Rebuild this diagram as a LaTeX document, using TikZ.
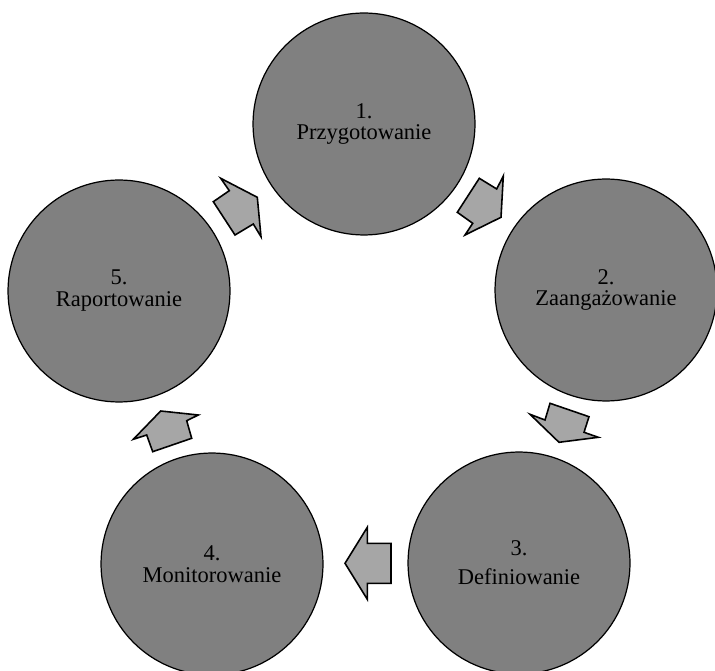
\documentclass[tikz,border=0pt]{standalone}
\usepackage{fontspec}
\setmainfont{Liberation Serif}
\definecolor{circgray}{HTML}{808080}
\definecolor{arrgray}{HTML}{A6A6A6}
\begin{document}
\begin{tikzpicture}[x=0.02cm,y=-0.02cm,
  stage/.style={circle,draw=black,line width=0.7pt,fill=circgray,minimum size=4.44cm,inner sep=0pt,
    align=center,font=\fontsize{12.8}{12.5}\selectfont,text=black},
  blockarrow/.style={draw=black,line width=0.9pt,fill=arrgray,line join=miter}]
\useasboundingbox (0,0) rectangle (715,671);
\node[stage] (s1) at (364,124) {1.\\Przygotowanie};
\node[stage] (s2) at (606,290) {2.\\Zaangażowanie};
\node[stage,font=\fontsize{12.8}{16.5}\selectfont] (s3) at (519,563) {3.\\Definiowanie};
\node[stage] (s4) at (212,564) {4.\\Monitorowanie};
\node[stage] (s5) at (119,291) {5.\\Raportowanie};
% arrow 5 -> 1
\draw[blockarrow] (220.7,178.3) -- (257.3,197.3) -- (261,236.7) -- (253.3,224) -- (235,235) -- (213.3,201.7) -- (229.3,190.7) -- cycle;
% arrow 1 -> 2
\draw[blockarrow] (503.3,176) -- (501,217.3) -- (465,235) -- (472.7,223.3) -- (457.3,212.3) -- (479.3,178.3) -- (496.7,189) -- cycle;
% arrow 2 -> 3
\draw[blockarrow] (530,414.3) -- (545,420) -- (550,403.3) -- (589,416.7) -- (584,432.3) -- (598.3,437.3) -- (559,442.3) -- cycle;
% arrow 3 -> 4
\draw[blockarrow] (345,563.3) -- (367.3,527.3) -- (367.3,543.3) -- (391,543.3) -- (391,583.3) -- (367.3,583.3) -- (367.3,599.3) -- cycle;
% arrow 4 -> 5
\draw[blockarrow] (133.3,439.3) -- (160.7,411) -- (198.3,415) -- (186.7,420.7) -- (191.7,438.3) -- (152.7,451.7) -- (146.7,435) -- cycle;
\end{tikzpicture}
\end{document}
